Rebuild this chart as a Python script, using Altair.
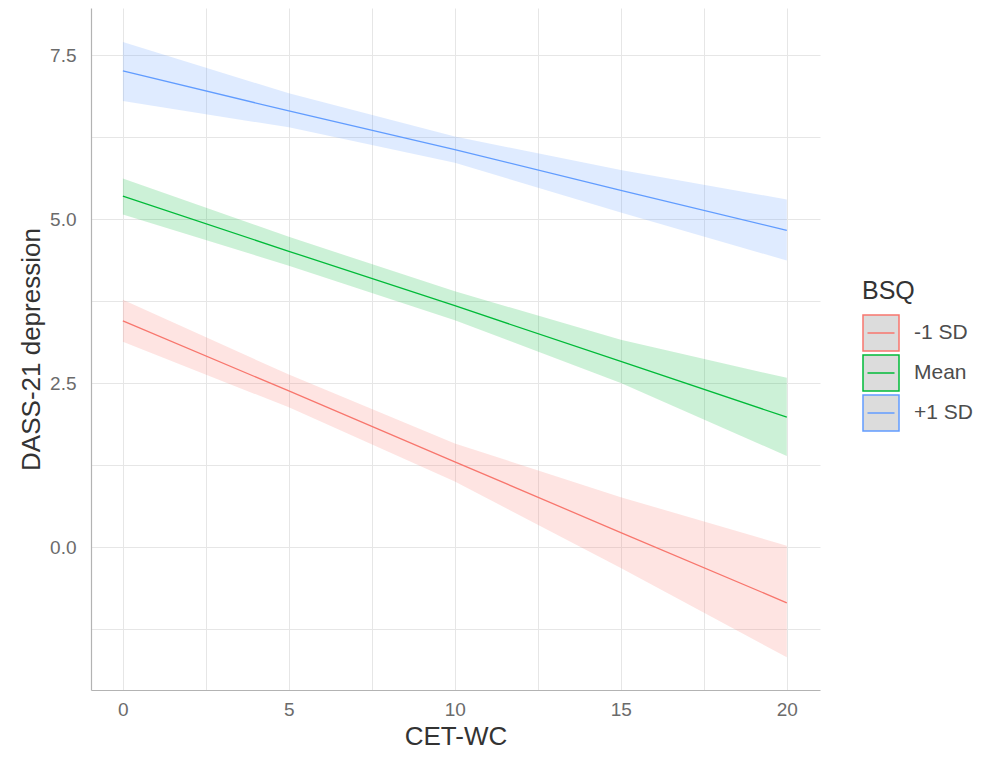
import altair as alt
import pandas as pd

# CET-WC values at which the fitted lines were read
cet_wc = [0, 5, 10, 15, 20]

groups = ["-1 SD", "Mean", "+1 SD"]
colors = ["#F8766D", "#00BA38", "#619CFF"]

fit_low = [3.45, 2.38, 1.30, 0.22, -0.85]
lo_low = [3.13, 2.13, 1.00, -0.32, -1.68]
hi_low = [3.77, 2.63, 1.58, 0.76, 0.02]

fit_mean = [5.35, 4.51, 3.68, 2.83, 1.98]
lo_mean = [5.07, 4.29, 3.46, 2.50, 1.39]
hi_mean = [5.62, 4.73, 3.90, 3.16, 2.58]

fit_high = [7.26, 6.65, 6.06, 5.44, 4.83]
lo_high = [6.80, 6.40, 5.86, 5.10, 4.37]
hi_high = [7.70, 6.92, 6.26, 5.75, 5.30]

x_ticks = [0, 2.5, 5, 7.5, 10, 12.5, 15, 17.5, 20]
y_ticks = [-1.25, 0, 1.25, 2.5, 3.75, 5, 6.25, 7.5]

rows = []
for g, fit, lo, hi in [
    (groups[0], fit_low, lo_low, hi_low),
    (groups[1], fit_mean, lo_mean, hi_mean),
    (groups[2], fit_high, lo_high, hi_high),
]:
    for x, f, l, h in zip(cet_wc, fit, lo, hi):
        rows.append({"CET-WC": x, "BSQ": g, "band": g, "fit": f, "lo": l, "hi": h})
df = pd.DataFrame(rows)

x_enc = alt.X(
    "CET-WC:Q",
    scale=alt.Scale(domain=[-0.96, 21.0], nice=False, zero=False),
    axis=alt.Axis(
        values=x_ticks,
        labelExpr="datum.value % 5 == 0 ? format(datum.value, 'd') : ''",
        title="CET-WC",
    ),
)

y_scale = alt.Scale(domain=[-2.18, 8.22], nice=False, zero=False)

band = alt.Chart(df).mark_area(opacity=0.2).encode(
    x=x_enc,
    y=alt.Y(
        "lo:Q",
        scale=y_scale,
        axis=alt.Axis(
            values=y_ticks,
            labelExpr="datum.value % 2.5 == 0 ? format(datum.value, '.1f') : ''",
            title="DASS-21 depression",
        ),
    ),
    y2="hi:Q",
    fill=alt.Fill(
        "band:N",
        sort=groups,
        scale=alt.Scale(range=colors),
        legend=None,
    ),
)

lines = alt.Chart(df).mark_line(strokeWidth=1.3).encode(
    x=x_enc,
    y=alt.Y("fit:Q", scale=y_scale),
    color=alt.Color(
        "BSQ:N",
        scale=alt.Scale(domain=groups, range=colors),
        legend=alt.Legend(
            title="BSQ",
            orient="none",
            legendX=771,
            legendY=271,
            symbolType="M-1,-1H1V1H-1Z M-0.75,0H0.75",
            symbolSize=1296,
            symbolFillColor="#dcdcdc",
            symbolStrokeWidth=1.5,
            labelOffset=14,
            rowPadding=-5.5,
            titlePadding=10,
            titleFontSize=25,
            titleFontWeight="normal",
            titleColor="#333333",
            labelFontSize=21,
            labelColor="#4d4d4d",
            titleFont="Liberation Sans",
            labelFont="Liberation Sans",
        ),
    ),
)

chart = (
    alt.layer(band, lines)
    .properties(
        width=729,
        height=682,
        autosize=alt.AutoSizeParams(type="none"),
        padding={"left": 83, "top": 0, "right": 156, "bottom": 59},
    )
    .configure_view(stroke=None)
    .configure_axis(
        grid=True,
        gridColor="#e6e6e6",
        gridWidth=1,
        domain=True,
        domainColor="#b3b3b3",
        domainWidth=1.2,
        ticks=False,
        labelFont="Liberation Sans",
        titleFont="Liberation Sans",
        labelFontSize=19,
        labelColor="#6b6b6b",
        titleFontSize=26,
        titleFontWeight="normal",
        titleColor="#333333",
    )
    .configure_axisX(labelPadding=10, titlePadding=4)
    .configure_axisY(labelPadding=15, titlePadding=5)
)

chart.save("out.html", embed_options={"renderer": "svg", "actions": False})
